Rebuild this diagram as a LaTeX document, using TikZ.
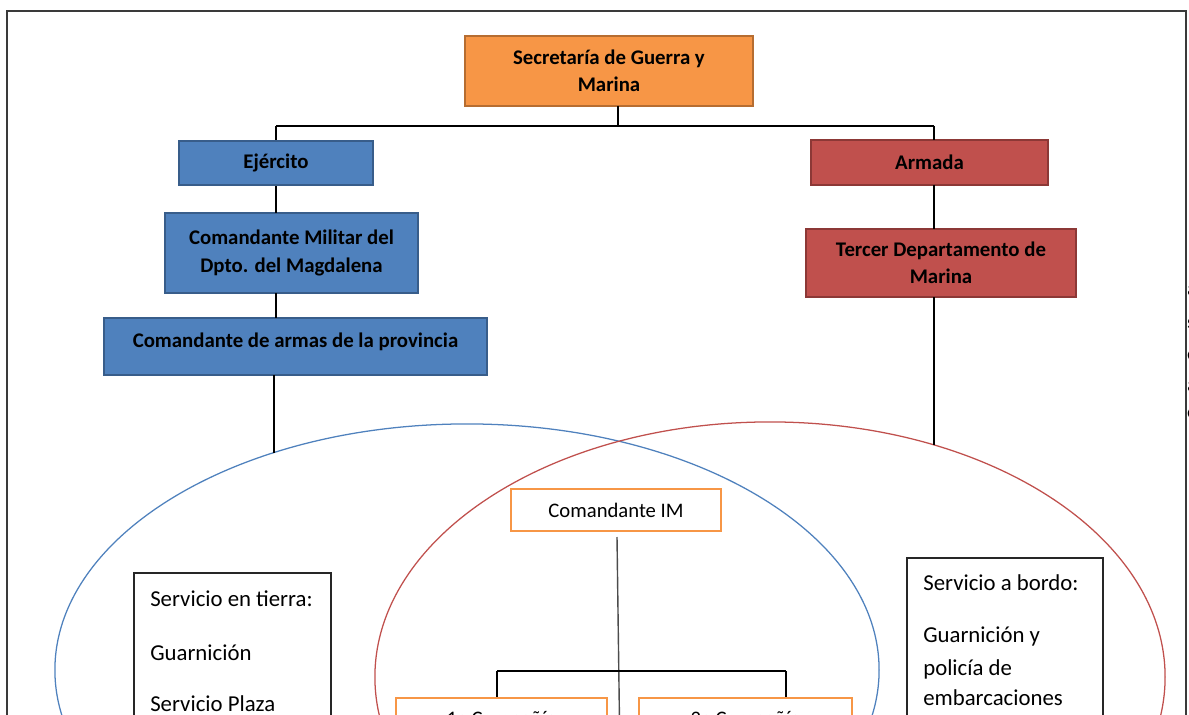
\documentclass[tikz,border=0pt]{standalone}
\usepackage{fontspec}
\setmainfont{Carlito}
\definecolor{orgfill}{HTML}{F79646}
\definecolor{orgdraw}{HTML}{B66D31}
\definecolor{bluefill}{HTML}{4F81BD}
\definecolor{bluedraw}{HTML}{385D8A}
\definecolor{redfill}{HTML}{C0504D}
\definecolor{reddraw}{HTML}{8C3836}
\definecolor{framegray}{HTML}{3A3A3A}
\begin{document}
\begin{tikzpicture}[x=0.025cm,y=-0.025cm,
  hbox/.style={draw, line width=1.3pt, inner sep=0pt, align=center,
    font=\bfseries\fontsize{14.8}{19.5}\selectfont},
  orgbox/.style={hbox, fill=orgfill, draw=orgdraw},
  bluebox/.style={hbox, fill=bluefill, draw=bluedraw},
  redbox/.style={hbox, fill=redfill, draw=reddraw},
  imbox/.style={draw=orgfill, line width=2pt, fill=white, inner sep=0pt,
    font=\fontsize{14.7}{18}\selectfont},
  svcbox/.style={draw=black!85, line width=1pt, fill=white, inner sep=0pt},
  svctext/.style={anchor=base west, inner sep=0pt, font=\fontsize{16.2}{18}\selectfont},
  conn/.style={draw=black, line width=1pt},
  ell/.style={line width=0.9pt}
]
\useasboundingbox (0,0) rectangle (1189,715);
\clip (0,0) rectangle (1189,715);

% frame
\draw[framegray, line width=1.4pt] (7,760) -- (7,11) -- (1186,11) -- (1186,760);
\foreach \yy/\ch [count=\i] in {295/a,328/s,360/c,391/a,418/c}
  \node[anchor=base west, inner sep=0pt, font=\bfseries\fontsize{14}{16}\selectfont] (frag\i) at (1187,\yy) {\ch};

% ellipses
\draw[ell, draw=bluefill] (467,670) ellipse [x radius=10.3cm, y radius=6.15cm];
\draw[ell, draw=redfill] (770,677) ellipse [x radius=9.875cm, y radius=6.375cm];

% top boxes
\node[orgbox, minimum width=7.2cm, minimum height=1.75cm] (sec) at (609,71)
  {Secretaría de Guerra y\\Marina};
\node[bluebox, minimum width=4.85cm, minimum height=1.1cm] (ej) at (276,163) {Ejército};
\node[bluebox, minimum width=6.325cm, minimum height=2.0cm] (cmil) at (291.5,253)
  {Comandante Militar del\\Dpto. del Magdalena};
\node[bluebox, minimum width=9.575cm, minimum height=1.425cm, text depth=9pt] (carm) at (295.5,346.5)
  {Comandante de armas de la provincia};
\node[redbox, minimum width=5.925cm, minimum height=1.125cm] (arm) at (929.5,162.5) {Armada};
\node[redbox, minimum width=6.75cm, minimum height=1.7cm] (ter) at (941,263)
  {Tercer Departamento de\\Marina};

% connectors top
\coordinate (secb) at (618,106);
\coordinate (jn) at (618,126);
\coordinate (jl) at (276,126);
\coordinate (jr) at (934,126);
\draw[conn] (secb) -- (jn);
\draw[conn] (jl) -- (jr);
\draw[conn] (jl) -- (ej.north);
\draw[conn] (jr) -- (934,140);
\draw[conn] (ej.south) -- (276,213);
\draw[conn] (276,293) -- (276,318);
\coordinate (blueTop) at (274,453);
\draw[conn] (274,375) -- (blueTop);
\draw[conn] (934,185) -- (934,229);
\coordinate (redTop) at (934,445);
\draw[conn] (934,297) -- (redTop);

% service boxes
\node[svcbox, minimum width=4.925cm, minimum height=4.675cm] (tierra) at (232.5,666.5) {};
\node[svctext] (t1) at (150,606) {Servicio en tierra:};
\node[svctext] (t2) at (150,660) {Guarnición};
\node[svctext] (t3) at (150,711) {Servicio Plaza};

\node[svcbox, minimum width=4.9cm, minimum height=5.05cm] (bordo) at (1005,659) {};
\node[svctext] (b1) at (923,590) {Servicio a bordo:};
\node[svctext] (b2) at (923,642) {Guarnición y};
\node[svctext] (b3) at (923,675) {policía de};
\node[svctext] (b4) at (923,705) {embarcaciones};

% Comandante IM
\node[imbox, minimum width=5.25cm, minimum height=1.05cm] (im) at (616,510) {Comandante IM};
\coordinate (imb) at (617,537);
\coordinate (imbot) at (620,760);
\draw[line width=1pt, draw=black!70] (imb) -- (imbot);
\coordinate (hl) at (497,671);
\coordinate (hr) at (786,671);
\draw[conn] (hl) -- (hr);

% company boxes
\node[imbox, minimum width=5.275cm, minimum height=1.55cm] (c1) at (501.5,729) {};
\node[imbox, minimum width=5.325cm, minimum height=1.55cm] (c2) at (745.5,729) {};
\node[anchor=base, inner sep=0pt, font=\fontsize{14.7}{18}\selectfont] (c1t) at (501.5,725) {1a Compañía};
\node[anchor=base, inner sep=0pt, font=\fontsize{14.7}{18}\selectfont] (c2t) at (745.5,725) {2a Compañía};
\draw[conn] (hl) -- (c1.north -| hl);
\draw[conn] (hr) -- (c2.north -| hr);
\end{tikzpicture}
\end{document}
